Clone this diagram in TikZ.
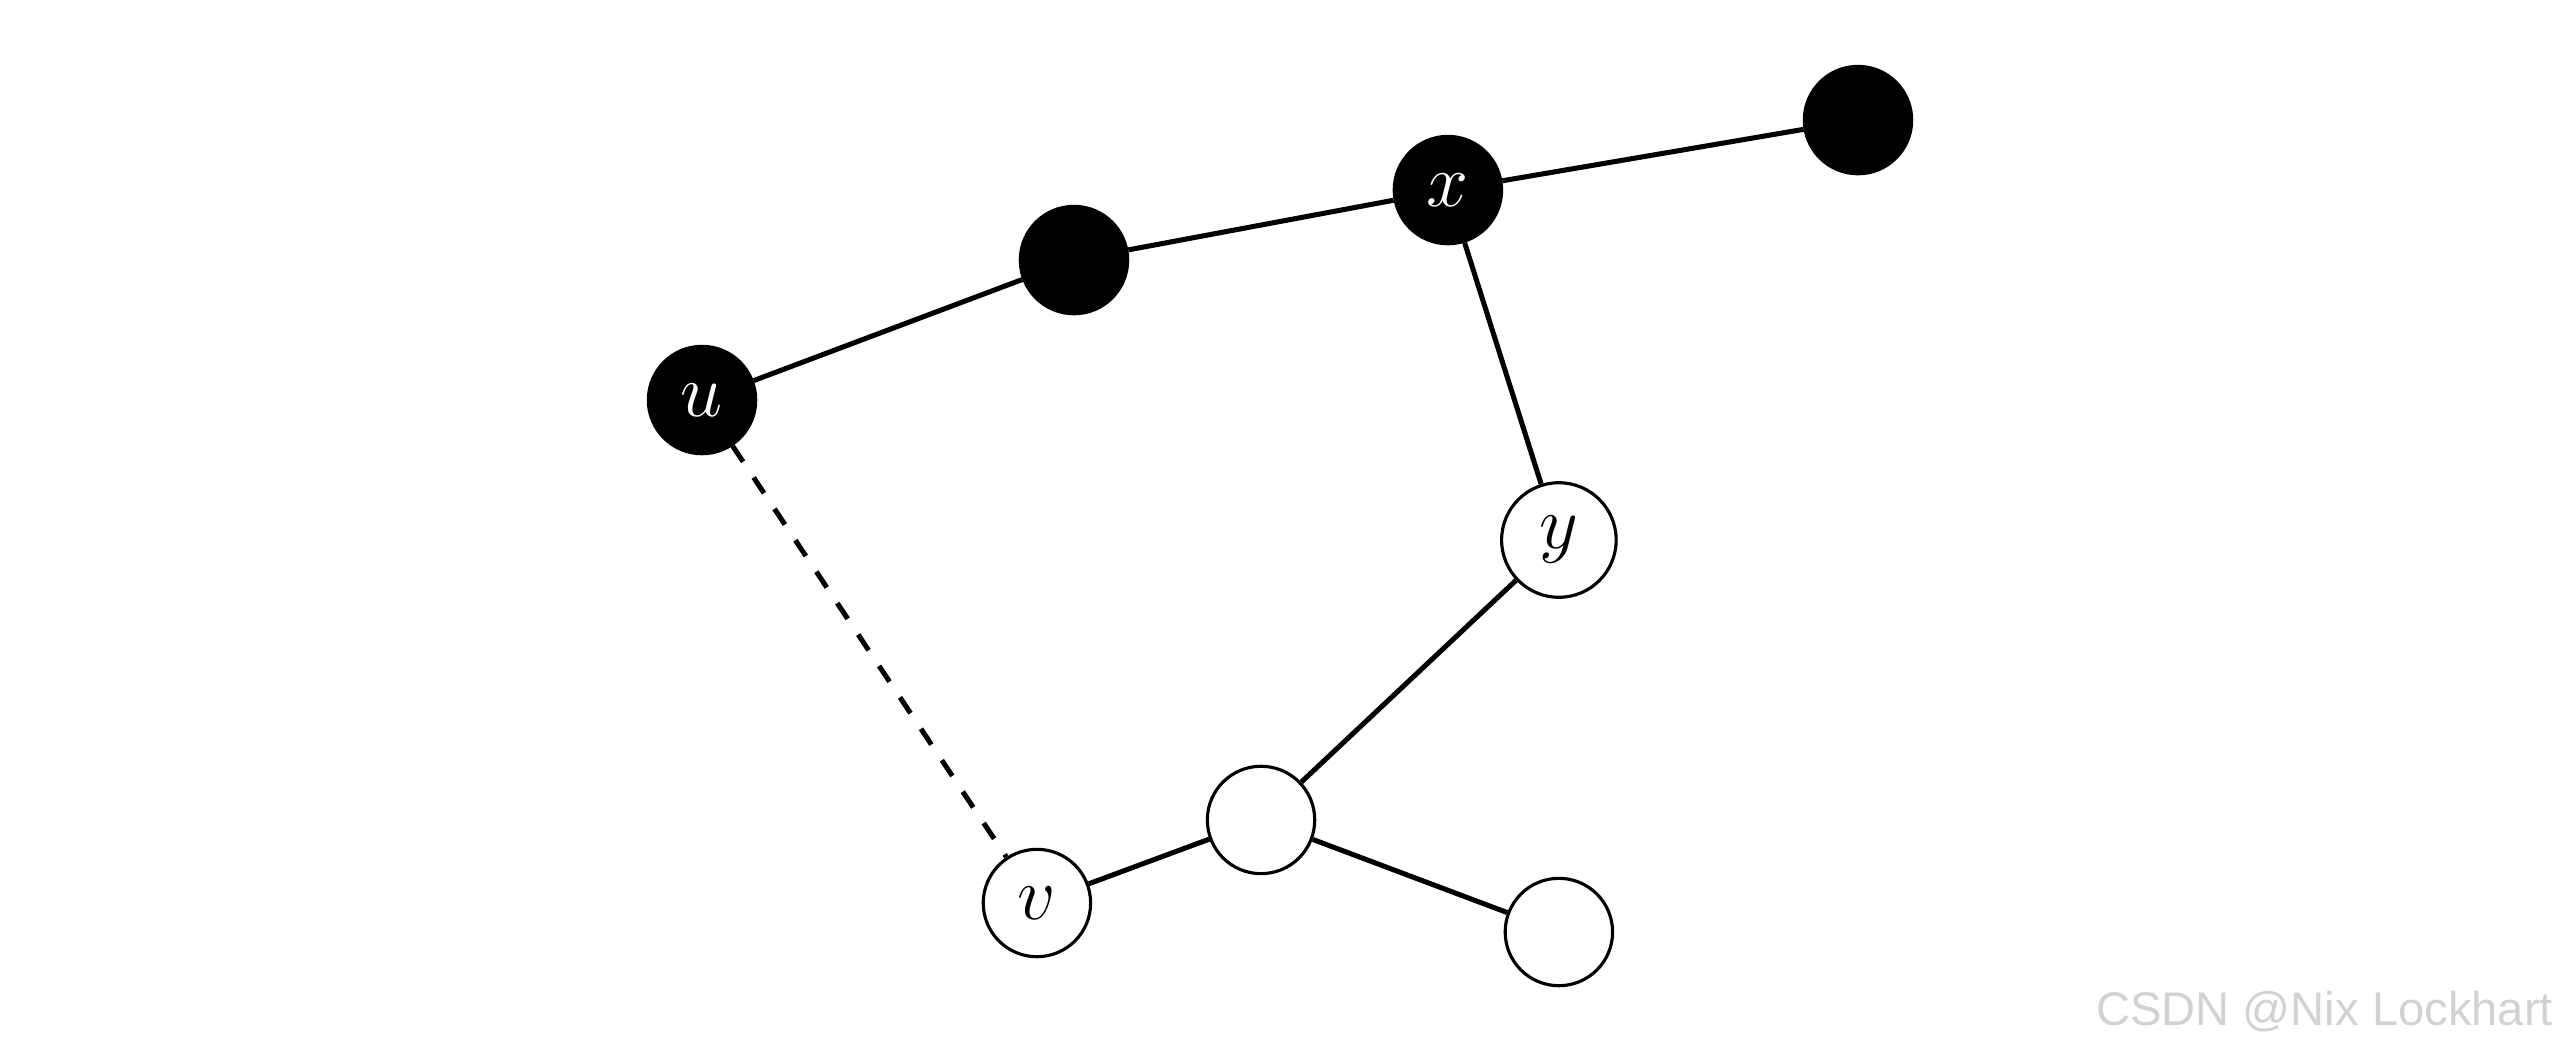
\documentclass[tikz,border=0pt]{standalone}
\usepackage{xcolor}
\usepackage{tikz}
\usetikzlibrary{positioning}
\usepackage{amsmath}
\usepackage{fontspec}
\newfontfamily\markfont{Liberation Sans}
\definecolor{ink}{HTML}{000000}
\definecolor{mark}{HTML}{D2D2D2}

\begin{document}
\begin{tikzpicture}[
  tree/.style={circle, fill=ink, draw=ink, line width=0.5pt, minimum size=0.6cm, inner sep=0pt, text=white, font=\large},
  rest/.style={circle, fill=white, draw=ink, line width=0.5pt, minimum size=0.6cm, inner sep=0pt, font=\large},
  edge/.style={line width=0.8pt},
  link/.style={line width=0.8pt, dashed}
]
\useasboundingbox (0,0) rectangle (14.302,5.883);
% dark part
\node[tree] (u) at (3.922,3.648) {$u$};
\node[tree] (p) at (6.000,4.430) {};
\node[tree] (x) at (8.089,4.821) {$x$};
\node[tree] (w) at (10.380,5.212) {};
% light part
\node[rest, minimum size=0.64cm] (y) at (8.709,2.866) {$y$};
\node[rest] (c) at (7.045,1.302) {};
\node[rest] (v) at (5.793,0.838) {$v$};
\node[rest] (d) at (8.709,0.676) {};
\draw[edge] (u) -- (p) -- (x) -- (w);
\draw[edge] (x) -- (y) -- (c) -- (v);
\draw[edge] (c) -- (d);
\draw[link] (u) -- (v);
\node[anchor=base east, inner sep=0pt, text=mark] (tag) at (14.27,0.156)
  {\markfont\fontsize{7.5}{8}\selectfont CSDN @Nix Lockhart};
\end{tikzpicture}
\end{document}
